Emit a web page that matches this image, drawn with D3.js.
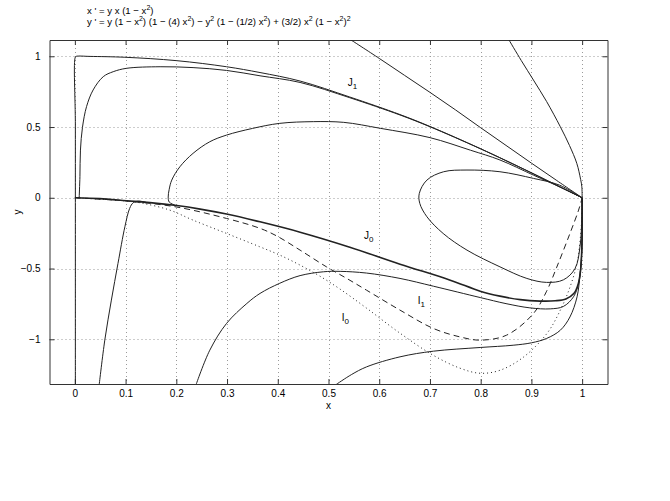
<!DOCTYPE html>
<html>
<head>
<meta charset="utf-8">
<script src="https://cdn.jsdelivr.net/npm/d3@7"></script>
<style>
  body { margin: 0; background: #fff; }
  text { font-family: "Liberation Sans", Arial, sans-serif; fill: #000; }
</style>
</head>
<body>
<div id="chart"></div>
<script>
// tick values
var xTicks = [0, 0.1, 0.2, 0.3, 0.4, 0.5, 0.6, 0.7, 0.8, 0.9, 1];
var yTicks = [-1, -0.5, 0, 0.5, 1];

// trajectories as [x, y]
var topCurve = [[0.001, -1.32], [0.001, 0.5], [0.001, 0.995], [0.003, 1.0], [0.03, 0.999], [0.0986, 0.993], [0.2006, 0.969], [0.299, 0.926], [0.365, 0.885], [0.444, 0.825], [0.542, 0.712], [0.641, 0.588], [0.70, 0.504], [0.799, 0.348], [0.897, 0.182], [0.957, 0.076], [1, 0]];
var innerTop = [[0.0085, 0.0], [0.010, 0.15], [0.011, 0.337], [0.015, 0.498], [0.023, 0.644], [0.036, 0.762], [0.056, 0.856], [0.0756, 0.891], [0.102, 0.915], [0.168, 0.926], [0.233, 0.92], [0.299, 0.9], [0.365, 0.862], [0.444, 0.815], [0.542, 0.707], [0.641, 0.585], [0.70, 0.502], [0.799, 0.347], [0.897, 0.181], [0.957, 0.075], [1, 0]];
var arch = [[0.197, -0.052], [0.186, -0.03], [0.184, 0.005], [0.186, 0.06], [0.191, 0.125], [0.207, 0.219], [0.233, 0.314], [0.266, 0.396], [0.299, 0.443], [0.35, 0.49], [0.404, 0.526], [0.47, 0.538], [0.53, 0.533], [0.602, 0.491], [0.70, 0.425], [0.78, 0.336], [0.838, 0.267], [0.904, 0.16], [0.96, 0.07], [1, 0]];
var steepLine = [[0.5424, 1.12], [0.6, 0.985], [0.65, 0.865], [0.70, 0.745], [0.75, 0.622], [0.80, 0.495], [0.85, 0.37], [0.90, 0.245], [0.95, 0.122], [1, 0]];
var rightCurve = [[0.855, 1.12], [0.88, 0.97], [0.904, 0.832], [0.93, 0.68], [0.957, 0.502], [0.975, 0.37], [0.9895, 0.243], [0.997, 0.13], [0.9994, 0.078], [1, 0]];
var loop = [[1, 0], [0.955, 0.09], [0.904, 0.137], [0.838, 0.184], [0.773, 0.196], [0.727, 0.184], [0.694, 0.125], [0.679, 0.031], [0.680, -0.040], [0.694, -0.134], [0.726, -0.252], [0.773, -0.370], [0.838, -0.488], [0.891, -0.570], [0.930, -0.598], [0.963, -0.58], [0.986, -0.50], [0.996, -0.34], [0.9994, -0.134], [1, 0]];
var j0 = [[0.001, 0], [0.049, -0.006], [0.102, -0.021], [0.148, -0.034], [0.201, -0.055], [0.247, -0.080], [0.299, -0.115], [0.365, -0.170], [0.444, -0.243], [0.542, -0.349], [0.641, -0.469], [0.740, -0.582], [0.799, -0.660], [0.838, -0.695], [0.878, -0.72], [0.917, -0.73], [0.947, -0.728], [0.968, -0.715], [0.984, -0.675], [0.992, -0.612], [0.997, -0.511], [0.9994, -0.342], [1.0, -0.158], [1, 0]];
var leftRise = [[0.048, -1.32], [0.059, -1.006], [0.072, -0.723], [0.085, -0.464], [0.0986, -0.205], [0.108, -0.075], [0.115, -0.035], [0.125, -0.024], [0.14, -0.031]];
var midHump = [[0.239, -1.32], [0.266, -1.077], [0.299, -0.888], [0.339, -0.747], [0.365, -0.676], [0.404, -0.604], [0.444, -0.55], [0.49, -0.523], [0.523, -0.52], [0.575, -0.532], [0.641, -0.57], [0.707, -0.625], [0.799, -0.705], [0.85, -0.748], [0.897, -0.778], [0.937, -0.785], [0.963, -0.768], [0.983, -0.70], [0.993, -0.605], [0.998, -0.464], [1.0, -0.299], [1, 0]];
var lowCurve = [[0.515, -1.32], [0.545, -1.25], [0.575, -1.195], [0.641, -1.124], [0.707, -1.084], [0.799, -1.058], [0.864, -1.042], [0.90, -1.025], [0.93, -0.994], [0.957, -0.936], [0.976, -0.842], [0.99, -0.70], [0.996, -0.535], [0.9994, -0.37], [1, -0.2], [1, 0]];
var i1 = [[0, 0], [0.1, -0.022], [0.2, -0.065], [0.299, -0.146], [0.365, -0.216], [0.398, -0.27], [0.444, -0.37], [0.496, -0.488], [0.536, -0.57], [0.575, -0.653], [0.641, -0.794], [0.707, -0.924], [0.759, -0.983], [0.799, -1.006], [0.851, -0.971], [0.904, -0.818], [0.93, -0.66], [0.95, -0.49], [0.976, -0.252], [0.993, -0.087], [1, 0]];
var i0 = [[0, 0], [0.102, -0.023], [0.135, -0.040], [0.187, -0.087], [0.233, -0.158], [0.299, -0.252], [0.365, -0.347], [0.404, -0.405], [0.444, -0.476], [0.483, -0.554], [0.523, -0.646], [0.575, -0.780], [0.641, -0.957], [0.706, -1.112], [0.759, -1.204], [0.799, -1.240], [0.838, -1.219], [0.884, -1.127], [0.931, -0.957], [0.957, -0.794], [0.976, -0.632], [0.990, -0.462], [0.996, -0.299], [0.999, -0.158], [1, 0]];

var curveLabels = [
  {name: "J", sub: "1", x: 0.538, y: 0.79},
  {name: "J", sub: "0", x: 0.57, y: -0.29},
  {name: "I", sub: "1", x: 0.676, y: -0.75},
  {name: "I", sub: "0", x: 0.526, y: -0.87}
];

var width = 670, height = 501;
var plotLeft = 49.5, plotRight = 607.5, plotTop = 40, plotBottom = 384;

var svg = d3.select("#chart").append("svg").attr("width", width).attr("height", height);
svg.append("rect").attr("width", width).attr("height", height).attr("fill", "#fff");

var x = d3.scaleLinear().domain([-0.05, 1.05]).range([plotLeft, plotRight]);
var y = d3.scaleLinear().domain([-1.316, 1.115]).range([plotBottom, plotTop]);

svg.append("clipPath").attr("id", "clip")
  .append("rect").attr("x", plotLeft).attr("y", plotTop).attr("width", plotRight - plotLeft).attr("height", plotBottom - plotTop);

// grid
var grid = svg.append("g");
grid.selectAll(".gx").data(xTicks).enter().append("line")
  .attr("x1", function (d) { return Math.round(x(d)) + 0.5; })
  .attr("x2", function (d) { return Math.round(x(d)) + 0.5; })
  .attr("y1", plotTop).attr("y2", plotBottom)
  .attr("stroke", "#9a9a9a").attr("stroke-width", 1).attr("stroke-dasharray", "1,3");
grid.selectAll(".gy").data(yTicks).enter().append("line")
  .attr("y1", function (d) { return Math.round(y(d)) + 0.5; })
  .attr("y2", function (d) { return Math.round(y(d)) + 0.5; })
  .attr("x1", plotLeft).attr("x2", plotRight)
  .attr("stroke", "#9a9a9a").attr("stroke-width", 1).attr("stroke-dasharray", "1,3");

// axes, ticks inside on all four sides
var axB = svg.append("g").attr("transform", "translate(0," + plotBottom + ")")
  .call(d3.axisBottom(x).tickValues(xTicks).tickSizeInner(-5).tickSizeOuter(0).tickPadding(6).tickFormat(d3.format("")));
var axT = svg.append("g").attr("transform", "translate(0," + plotTop + ")")
  .call(d3.axisTop(x).tickValues(xTicks).tickSizeInner(-5).tickSizeOuter(0).tickFormat(""));
var axL = svg.append("g").attr("transform", "translate(" + plotLeft + ",0)")
  .call(d3.axisLeft(y).tickValues(yTicks).tickSizeInner(-5).tickSizeOuter(0).tickPadding(9).tickFormat(function (d) { return String(d).replace("-", "\u2212"); }));
var axR = svg.append("g").attr("transform", "translate(" + plotRight + ",0)")
  .call(d3.axisRight(y).tickValues(yTicks).tickSizeInner(-5).tickSizeOuter(0).tickFormat(""));
[axB, axT, axL, axR].forEach(function (a) {
  a.select(".domain").attr("stroke", "#333");
  a.selectAll(".tick line").attr("stroke", "#333");
  a.selectAll("text").attr("font-size", 10).attr("font-family", "Liberation Sans, Arial, sans-serif");
});

// trajectories
var line = d3.line().x(function (d) { return x(d[0]); }).y(function (d) { return y(d[1]); })
  .curve(d3.curveCatmullRom.alpha(0.5));
var plot = svg.append("g").attr("clip-path", "url(#clip)");
var series = [
  {data: topCurve, w: 1}, {data: innerTop, w: 1}, {data: arch, w: 1},
  {data: steepLine, w: 1}, {data: rightCurve, w: 1}, {data: loop, w: 1},
  {data: leftRise, w: 1}, {data: midHump, w: 1}, {data: lowCurve, w: 1},
  {data: j0, w: 1.6},
  {data: i1, w: 1, dash: "6,4"},
  {data: i0, w: 1, dash: "1,3"}
];
series.forEach(function (s) {
  plot.append("path").attr("d", line(s.data)).attr("fill", "none")
    .attr("stroke", "#222").attr("stroke-width", s.w)
    .attr("stroke-dasharray", s.dash || null);
});

// curve labels
curveLabels.forEach(function (l) {
  var t = svg.append("text").attr("x", x(l.x)).attr("y", y(l.y)).attr("font-size", 10);
  t.append("tspan").text(l.name);
  t.append("tspan").attr("dy", 3).attr("font-size", 8).text(l.sub);
});

// axis titles
svg.append("text").attr("x", (plotLeft + plotRight) / 2).attr("y", 409).attr("text-anchor", "middle").attr("font-size", 10).text("x");
svg.append("text").attr("transform", "translate(21,212) rotate(-90)").attr("text-anchor", "middle").attr("font-size", 10).text("y");

// equations, superscripts shift up then the next piece shifts back
function eq(yPos, parts) {
  var t = svg.append("text").attr("x", 87).attr("y", yPos).attr("font-size", 9.6);
  var back = 0;
  parts.forEach(function (p) {
    if (p[1]) {
      t.append("tspan").attr("dy", back - 4).attr("font-size", 7).text(p[0]);
      back = 4;
    } else {
      t.append("tspan").attr("dy", back).text(p[0]);
      back = 0;
    }
  });
}
eq(14, [["x ' = y x (1 \u2212 x"], ["2", 1], [")"]]);
eq(25, [["y ' = y (1 \u2212 x"], ["2", 1], [") (1 \u2212 (4) x"], ["2", 1], [") \u2212 y"], ["2", 1],
  [" (1 \u2212 (1/2) x"], ["2", 1], [") + (3/2) x"], ["2", 1], [" (1 \u2212 x"], ["2", 1], [")"], ["2", 1]]);
</script>
</body>
</html>
